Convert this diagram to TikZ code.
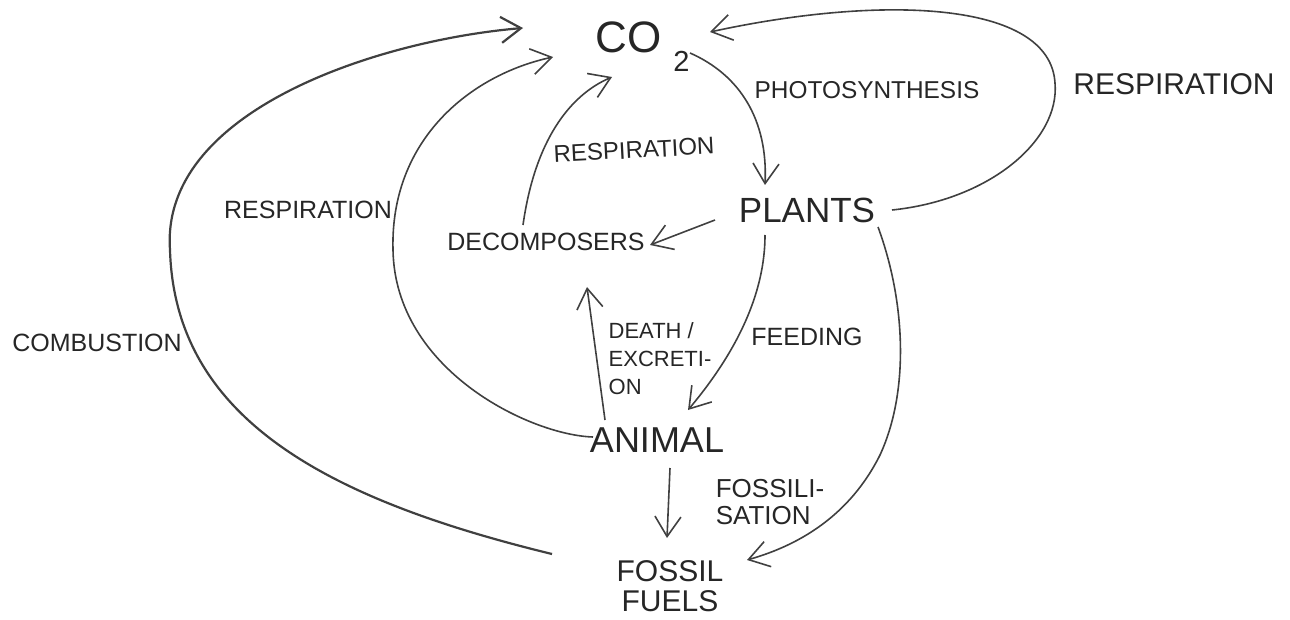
\documentclass[tikz,border=0pt]{standalone}
\usepackage{fontspec}
\setmainfont{Liberation Sans}
\usetikzlibrary{arrows.meta,calc}

\begin{document}
\begin{tikzpicture}[x=0.5pt,y=-0.5pt]

% Define stage, label and arrow styles
\tikzstyle{stage} =[inner sep=0pt, text=black!85,
                    font=\fontsize{12.5}{15}\selectfont]
\tikzstyle{proc} =[inner sep=0pt, text=black!85,
                   font=\fontsize{12.5}{14}\selectfont]
\tikzstyle{flow} =[draw=black!75, line width=0.8pt,
                   -{Straight Barb[length=10pt,width=13pt]}]

\useasboundingbox (0,0) rectangle (1290,620);

% stages of the cycle
\node[stage, anchor=base west, font=\fontsize{22}{24}\selectfont] (co2) at (595,53)
  {CO\hspace{6pt}\raisebox{-9.5pt}{\fontsize{14.5}{14.5}\selectfont 2}};
\node[stage, font=\fontsize{17.5}{20}\selectfont] (plants) at (807,210) {PLANTS};
\node[stage] (decomp) at (546,242) {DECOMPOSERS};
\node[stage, font=\fontsize{18}{20}\selectfont] (animal) at (657,440) {ANIMAL};
\node[stage, align=center, font=\fontsize{15}{15}\selectfont] (fuels) at (670,586) {FOSSIL\\FUELS};

% process labels
\node[proc, font=\fontsize{12.2}{14}\selectfont] (photo) at (867,90) {PHOTOSYNTHESIS};
\node[proc, font=\fontsize{15}{17}\selectfont] (respR) at (1174,84) {RESPIRATION};
\node[proc, rotate=3, font=\fontsize{12}{14}\selectfont] (respM) at (634,150) {RESPIRATION};
\node[proc] (respL) at (308,210) {RESPIRATION};
\node[proc] (comb) at (97,343) {COMBUSTION};
\node[proc] (feed) at (807,337) {FEEDING};
\node[proc, align=left, font=\fontsize{11}{14}\selectfont] (death) at (660,359) {DEATH /\\EXCRETI-\\ON};
\node[proc, align=left, font=\fontsize{13}{13.5}\selectfont] (fossil) at (770,502) {FOSSILI-\\SATION};

% arrows
\draw[flow, line width=1.1pt] ($(fuels.center)+(-118,-32)$) .. controls (330,500) and (175,420) .. (170,250)
  .. controls (160,110) and (380,40) .. ($(co2.base west)+(-72,-25)$);
\draw[flow] ($(animal.center)+(-64,-3)$) .. controls (530,435) and (395,370) .. (393,250)
  .. controls (390,140) and (470,75) .. ($(co2.base west)+(-42,4)$);
\draw[flow] ($(decomp.center)+(-23,-17)$) .. controls (535,140) and (570,95) .. ($(co2.base west)+(17,24)$);
\draw[flow] ($(co2.base west)+(95,0)$) .. controls (740,75) and (768,120) .. ($(plants.center)+(-42,-25)$);
\draw[flow] ($(plants.center)+(85,0)$) .. controls (990,200) and (1060,140) .. (1055,83)
  .. controls (1050,0) and (880,-5) .. ($(co2.base west)+(115,-21)$);
\draw[flow] ($(plants.center)+(-92,10)$) -- ($(decomp.center)+(104,3)$);
\draw[flow] ($(plants.center)+(-42,25)$) .. controls (765,300) and (730,360) .. ($(animal.center)+(31,-30)$);
\draw[flow] ($(animal.center)+(-52,-20)$) -- ($(decomp.center)+(41,45)$);
\draw[flow] ($(animal.center)+(13,28)$) -- ($(fuels.center)+(-3,-48)$);
\draw[flow] ($(plants.center)+(71,17)$) .. controls (905,300) and (910,390) .. (880,455)
  .. controls (850,515) and (800,545) .. ($(fuels.center)+(77,-26)$);

\end{tikzpicture}
\end{document}
